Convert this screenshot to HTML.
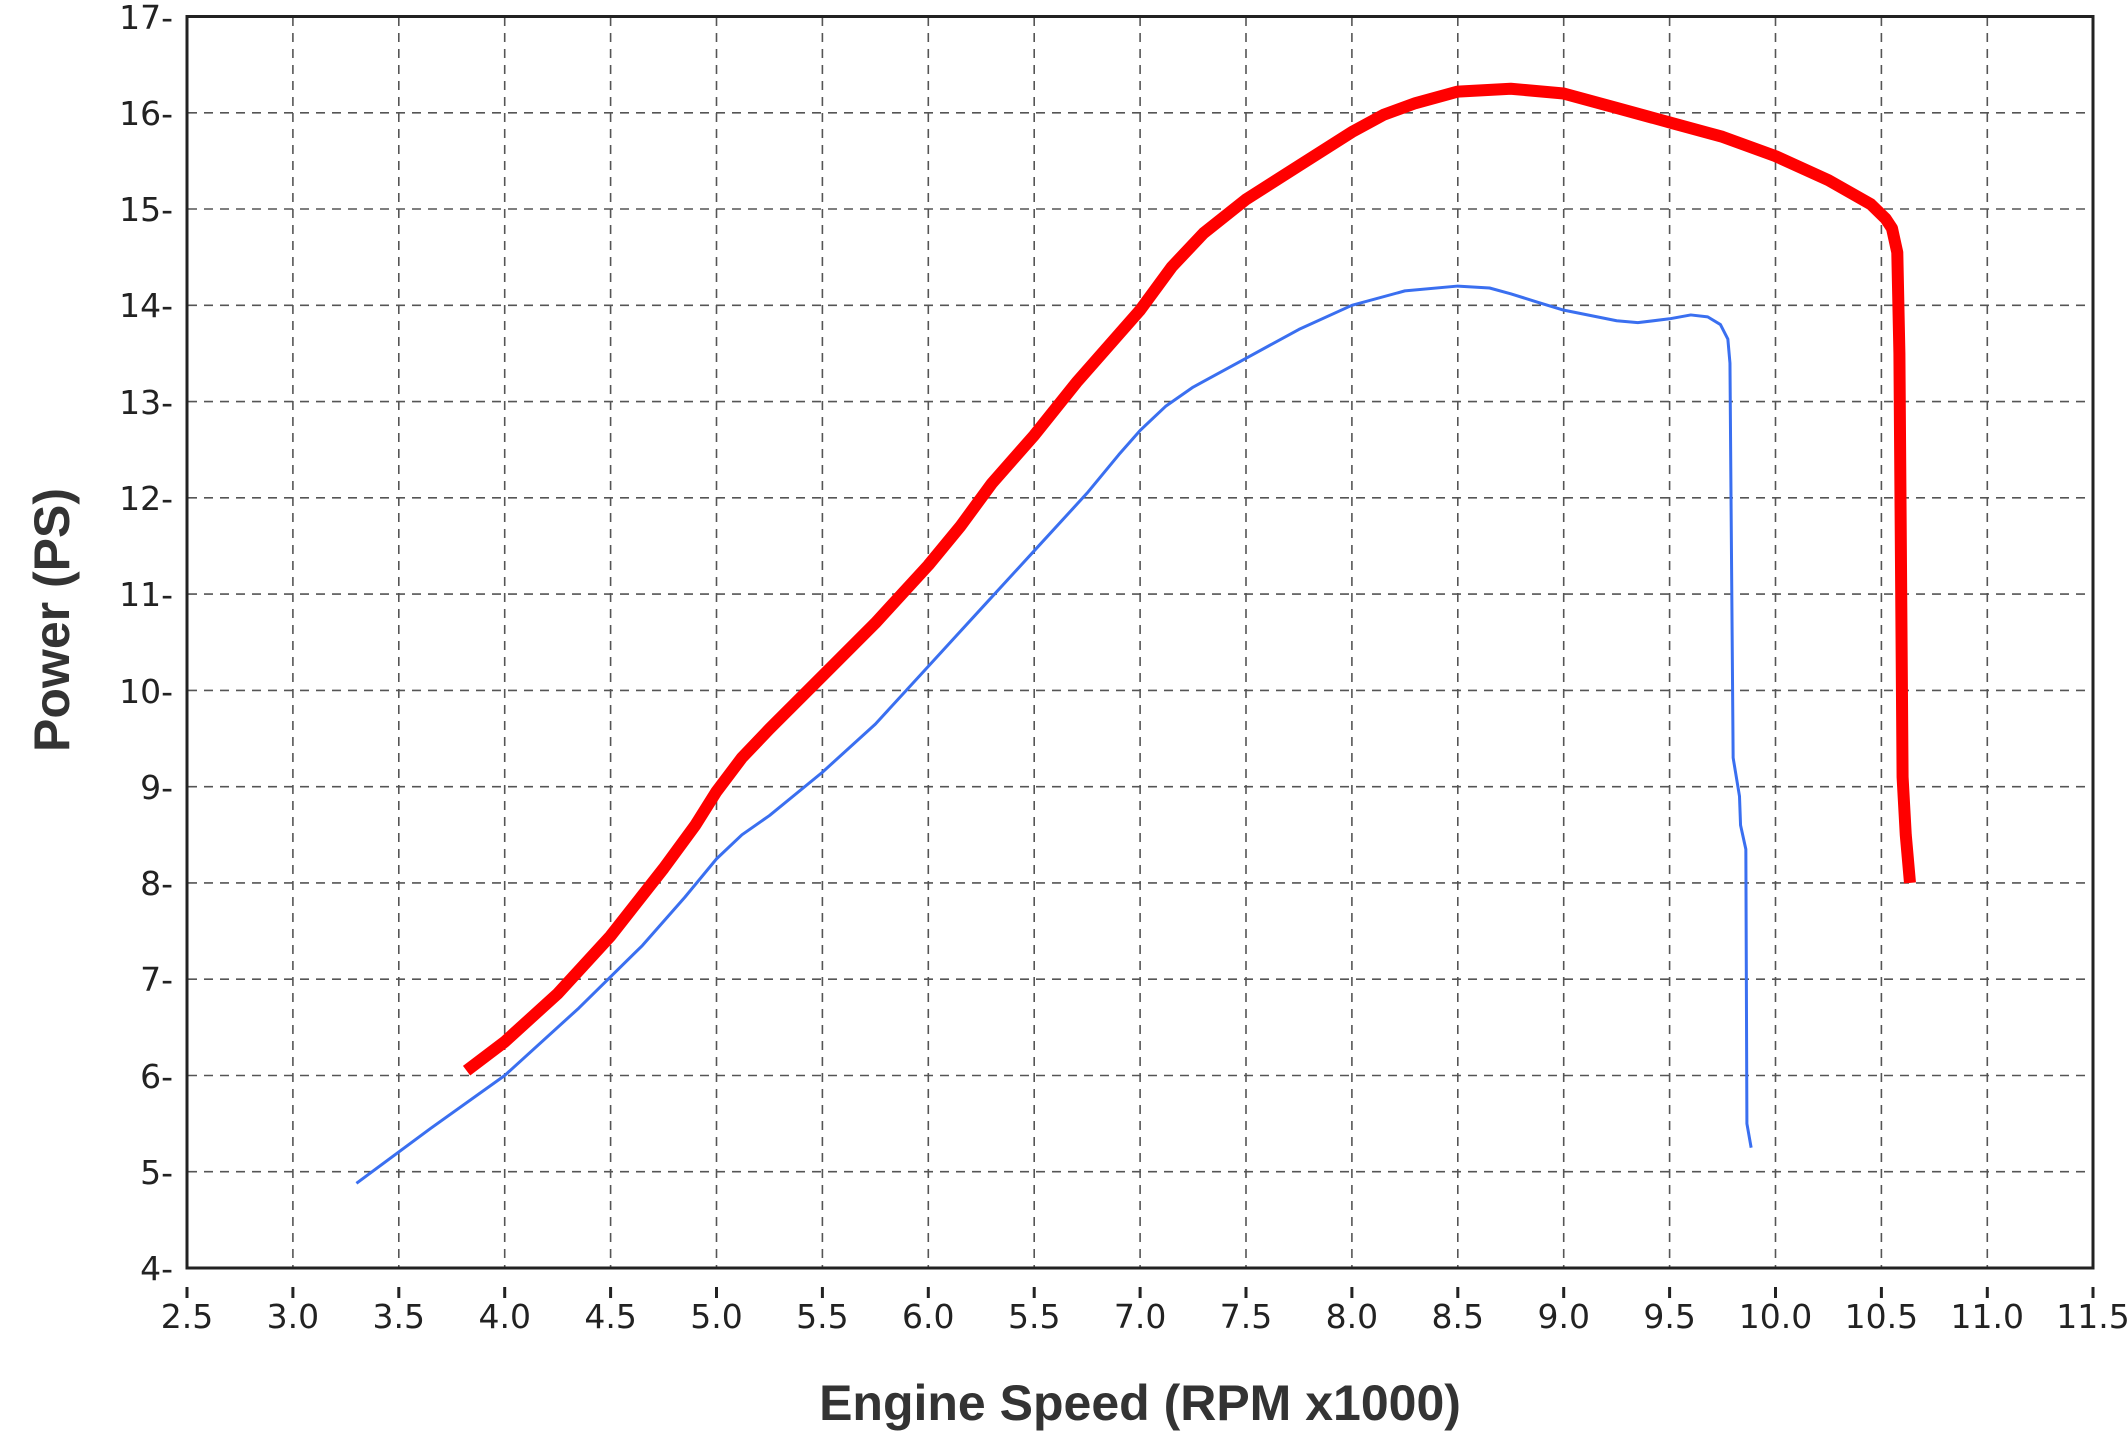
<!DOCTYPE html>
<html><head><meta charset="utf-8"><style>
html,body{margin:0;padding:0;background:#fff;}
svg{display:block;}
text{font-family:"DejaVu Sans","Liberation Sans",sans-serif;fill:#222;}
</style></head><body>
<svg width="2128" height="1440" viewBox="0 0 2128 1440" xmlns="http://www.w3.org/2000/svg">
<rect width="2128" height="1440" fill="#fff"/>
<g stroke="#555" stroke-width="1.6" stroke-dasharray="9,7" fill="none">
<line x1="292.9" y1="17" x2="292.9" y2="1267"/>
<line x1="398.8" y1="17" x2="398.8" y2="1267"/>
<line x1="504.7" y1="17" x2="504.7" y2="1267"/>
<line x1="610.6" y1="17" x2="610.6" y2="1267"/>
<line x1="716.5" y1="17" x2="716.5" y2="1267"/>
<line x1="822.4" y1="17" x2="822.4" y2="1267"/>
<line x1="928.3" y1="17" x2="928.3" y2="1267"/>
<line x1="1034.2" y1="17" x2="1034.2" y2="1267"/>
<line x1="1140.1" y1="17" x2="1140.1" y2="1267"/>
<line x1="1246" y1="17" x2="1246" y2="1267"/>
<line x1="1351.9" y1="17" x2="1351.9" y2="1267"/>
<line x1="1457.8" y1="17" x2="1457.8" y2="1267"/>
<line x1="1563.7" y1="17" x2="1563.7" y2="1267"/>
<line x1="1669.6" y1="17" x2="1669.6" y2="1267"/>
<line x1="1775.5" y1="17" x2="1775.5" y2="1267"/>
<line x1="1881.4" y1="17" x2="1881.4" y2="1267"/>
<line x1="1987.3" y1="17" x2="1987.3" y2="1267"/>
<line x1="188" y1="1171.7" x2="2092" y2="1171.7"/>
<line x1="188" y1="1075.5" x2="2092" y2="1075.5"/>
<line x1="188" y1="979.2" x2="2092" y2="979.2"/>
<line x1="188" y1="882.9" x2="2092" y2="882.9"/>
<line x1="188" y1="786.7" x2="2092" y2="786.7"/>
<line x1="188" y1="690.4" x2="2092" y2="690.4"/>
<line x1="188" y1="594.1" x2="2092" y2="594.1"/>
<line x1="188" y1="497.8" x2="2092" y2="497.8"/>
<line x1="188" y1="401.6" x2="2092" y2="401.6"/>
<line x1="188" y1="305.3" x2="2092" y2="305.3"/>
<line x1="188" y1="209" x2="2092" y2="209"/>
<line x1="188" y1="112.8" x2="2092" y2="112.8"/>
</g>
<rect x="187" y="16.5" width="1906" height="1251.5" fill="none" stroke="#222" stroke-width="3"/>
<g stroke="#222" stroke-width="3">
<line x1="187" y1="1287" x2="187" y2="1298"/><line x1="292.9" y1="1287" x2="292.9" y2="1298"/><line x1="398.8" y1="1287" x2="398.8" y2="1298"/><line x1="504.7" y1="1287" x2="504.7" y2="1298"/><line x1="610.6" y1="1287" x2="610.6" y2="1298"/><line x1="716.5" y1="1287" x2="716.5" y2="1298"/><line x1="822.4" y1="1287" x2="822.4" y2="1298"/><line x1="928.3" y1="1287" x2="928.3" y2="1298"/><line x1="1034.2" y1="1287" x2="1034.2" y2="1298"/><line x1="1140.1" y1="1287" x2="1140.1" y2="1298"/><line x1="1246" y1="1287" x2="1246" y2="1298"/><line x1="1351.9" y1="1287" x2="1351.9" y2="1298"/><line x1="1457.8" y1="1287" x2="1457.8" y2="1298"/><line x1="1563.7" y1="1287" x2="1563.7" y2="1298"/><line x1="1669.6" y1="1287" x2="1669.6" y2="1298"/><line x1="1775.5" y1="1287" x2="1775.5" y2="1298"/><line x1="1881.4" y1="1287" x2="1881.4" y2="1298"/><line x1="1987.3" y1="1287" x2="1987.3" y2="1298"/><line x1="2093" y1="1287" x2="2093" y2="1298"/>
</g>
<g transform="matrix(211.8 0 0 -96.27 -342.5 1653.1)" fill="none" stroke-linejoin="round" stroke-linecap="butt">
<polyline vector-effect="non-scaling-stroke" stroke="#3a6ff0" stroke-width="3" points="3.3,4.88 3.65,5.45 4.0,6.0 4.35,6.7 4.65,7.35 4.85,7.85 5.0,8.25 5.12,8.5 5.25,8.7 5.5,9.15 5.75,9.65 6.0,10.25 6.25,10.85 6.5,11.45 6.75,12.05 6.9,12.45 7.0,12.7 7.12,12.95 7.25,13.15 7.5,13.45 7.75,13.75 8.0,14.0 8.25,14.15 8.5,14.2 8.65,14.18 8.75,14.12 8.88,14.03 9.0,13.95 9.25,13.84 9.35,13.82 9.5,13.86 9.6,13.9 9.68,13.88 9.74,13.8 9.775,13.65 9.785,13.4 9.79,12.0 9.8,9.3 9.83,8.9 9.835,8.6 9.86,8.35 9.865,5.5 9.885,5.25"/>
<polyline vector-effect="non-scaling-stroke" stroke="#ff0000" stroke-width="12" points="3.82,6.05 4.0,6.35 4.25,6.85 4.5,7.45 4.75,8.15 4.9,8.6 5.0,8.95 5.12,9.3 5.25,9.6 5.5,10.15 5.75,10.7 6.0,11.3 6.15,11.7 6.3,12.15 6.5,12.65 6.7,13.2 7.0,13.95 7.15,14.4 7.3,14.75 7.5,15.1 7.75,15.45 8.0,15.8 8.15,15.98 8.3,16.1 8.5,16.22 8.75,16.25 9.0,16.2 9.25,16.05 9.5,15.9 9.75,15.75 10.0,15.55 10.25,15.3 10.45,15.05 10.52,14.9 10.55,14.8 10.575,14.55 10.585,13.5 10.6,9.1 10.615,8.5 10.635,8.0"/>
</g>
<g font-size="33" text-anchor="middle">
<text x="187" y="1328">2.5</text><text x="292.9" y="1328">3.0</text><text x="398.8" y="1328">3.5</text><text x="504.7" y="1328">4.0</text><text x="610.6" y="1328">4.5</text><text x="716.5" y="1328">5.0</text><text x="822.4" y="1328">5.5</text><text x="928.3" y="1328">6.0</text><text x="1034.2" y="1328">5.5</text><text x="1140.1" y="1328">7.0</text><text x="1246" y="1328">7.5</text><text x="1351.9" y="1328">8.0</text><text x="1457.8" y="1328">8.5</text><text x="1563.7" y="1328">9.0</text><text x="1669.6" y="1328">9.5</text><text x="1775.5" y="1328">10.0</text><text x="1881.4" y="1328">10.5</text><text x="1987.3" y="1328">11.0</text><text x="2093" y="1328">11.5</text>
</g>
<g font-size="33" text-anchor="end">
<text x="173" y="1280">4-</text><text x="173" y="1184">5-</text><text x="173" y="1088">6-</text><text x="173" y="991">7-</text><text x="173" y="895">8-</text><text x="173" y="799">9-</text><text x="173" y="703">10-</text><text x="173" y="606">11-</text><text x="173" y="510">12-</text><text x="173" y="414">13-</text><text x="173" y="317">14-</text><text x="173" y="221">15-</text><text x="173" y="125">16-</text><text x="173" y="29">17-</text>
</g>
<text x="1140" y="1420" font-size="50" font-weight="bold" text-anchor="middle" style="font-family:'Liberation Sans',sans-serif;fill:#333">Engine Speed (RPM x1000)</text>
<text transform="translate(69,620) rotate(-90)" font-size="50" font-weight="bold" text-anchor="middle" style="font-family:'Liberation Sans',sans-serif;fill:#333">Power (PS)</text>
</svg>
</body></html>
